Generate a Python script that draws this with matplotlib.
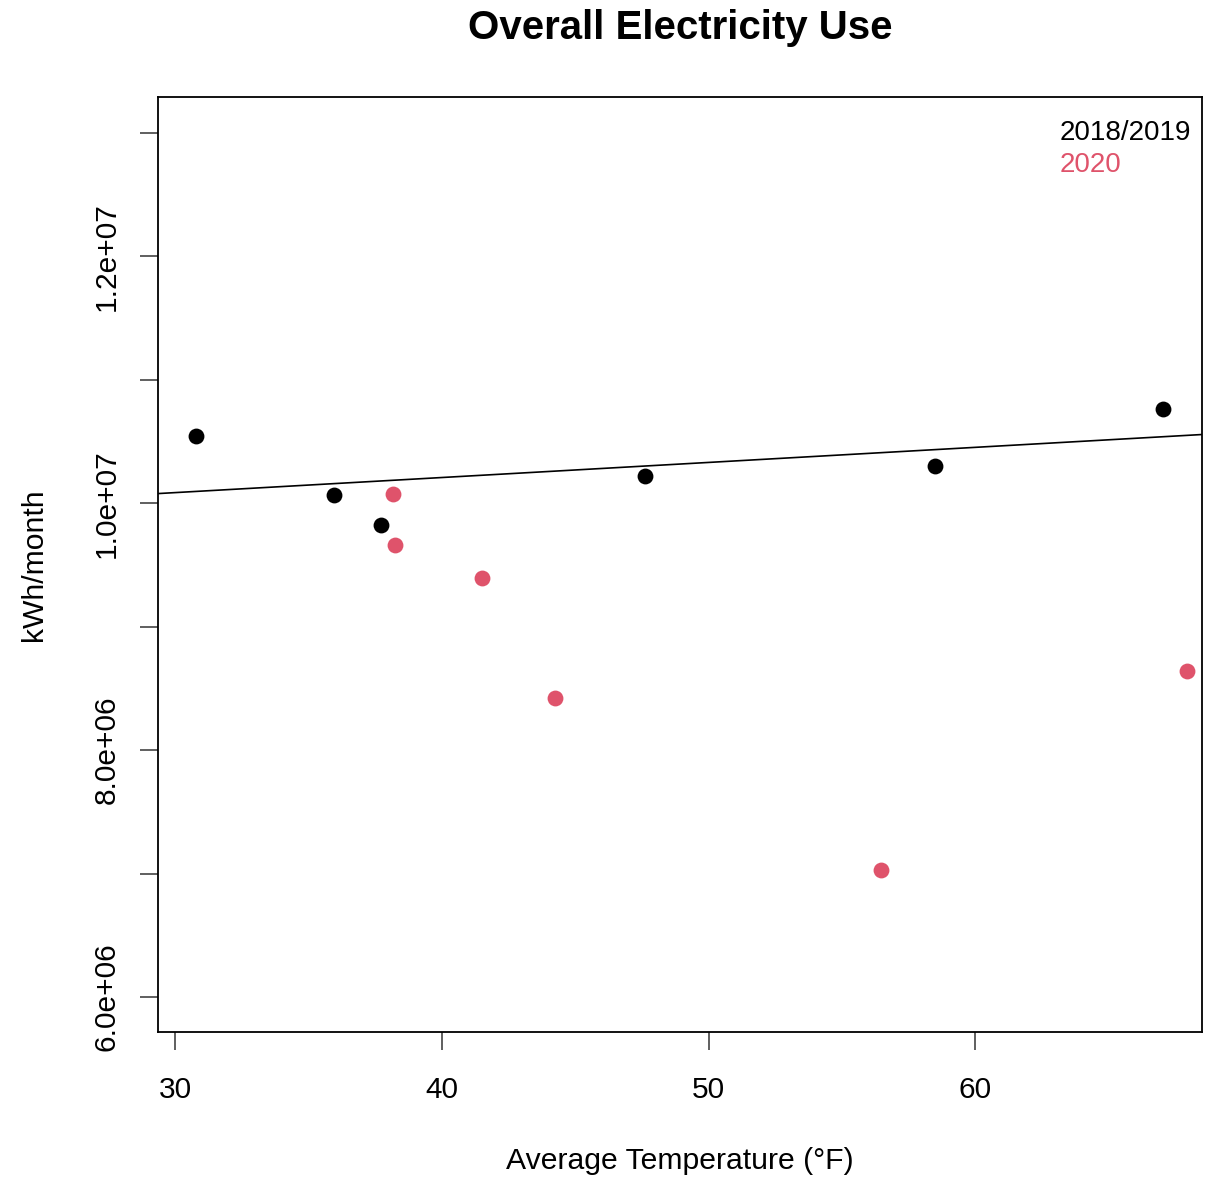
import numpy as np
import matplotlib
matplotlib.use("Agg")
import matplotlib.pyplot as plt

plt.rcParams['font.family'] = ['Liberation Sans', 'DejaVu Sans']

# average monthly temperature (F) and electricity use (kWh/month)
temp_1819 = [30.8, 35.95, 37.7, 47.6, 58.5, 67.05]
kwh_1819 = [10.543e6, 10.065e6, 9.82e6, 10.219e6, 10.30e6, 10.761e6]
temp_2020 = [38.15, 38.25, 41.5, 44.25, 56.45, 67.95]
kwh_2020 = [10.073e6, 9.66e6, 9.393e6, 8.421e6, 7.028e6, 8.64e6]

series_labels = ["2018/2019", "2020"]
series_colors = ["black", "#DF536B"]

xticks = [30, 40, 50, 60]
yticks = [6e6, 7e6, 8e6, 9e6, 10e6, 11e6, 12e6, 13e6]
ytick_labels = ["6.0e+06", "", "8.0e+06", "", "1.0e+07", "", "1.2e+07", ""]

fig = plt.figure(figsize=(12.12, 11.79), dpi=100)
ax = fig.add_axes([0.1304, 0.1247, 0.8614, 0.793])

ax.scatter(temp_1819, kwh_1819, s=130, color=series_colors[0], zorder=3, linewidths=0)
ax.scatter(temp_2020, kwh_2020, s=130, color=series_colors[1], zorder=3, linewidths=0)

# linear fit of the 2018/2019 points
slope, intercept = np.polyfit(temp_1819, kwh_1819, 1)
ax.axline((0, intercept), slope=slope, color="black", lw=1.2, zorder=2)

ax.set_xlim(29.36, 68.5)
ax.set_ylim(5.717e6, 13.29e6)
ax.set_xticks(xticks)
ax.set_yticks(yticks)
ax.set_yticklabels(ytick_labels)
ax.tick_params(axis='both', length=13, width=1.2, color='#444444', labelsize=21.5)
ax.tick_params(axis='x', pad=19)
ax.tick_params(axis='y', pad=14, labelrotation=90)
for lab in ax.get_yticklabels():
    lab.set_va('center')

for sp in ax.spines.values():
    sp.set_linewidth(1.3)

ax.set_xlabel("Average Temperature (°F)", fontsize=21.7, labelpad=31)
ax.set_ylabel("kWh/month", fontsize=21.7, labelpad=32)
ax.set_title("Overall Electricity Use", fontsize=29, fontweight='bold', pad=42)

handles = [plt.Line2D([], [], linestyle='none') for _ in series_labels]
ax.legend(handles, series_labels, loc='upper right', frameon=False,
          bbox_to_anchor=(1.003, 0.99),
          handlelength=0, handletextpad=0, fontsize=20, labelspacing=0.2,
          labelcolor=series_colors, borderaxespad=0.1)

fig.savefig("out.png", dpi=100)
